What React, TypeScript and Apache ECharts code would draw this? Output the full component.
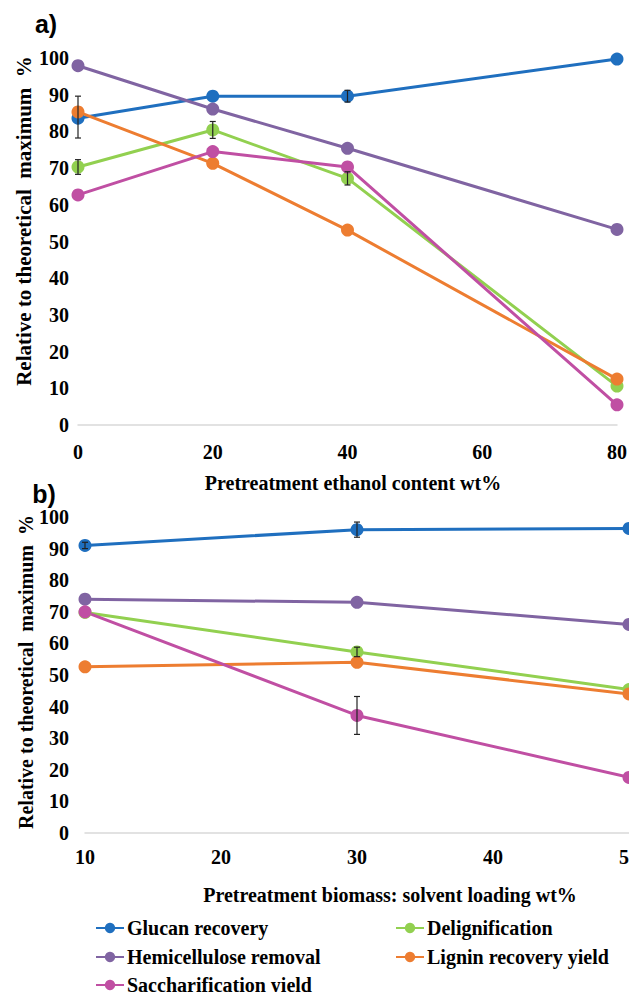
import React, { useEffect, useRef } from "react";
import * as echarts from "echarts";

// Panel a) – ethanol content
const ethanol = [0, 20, 40, 80];
const glucanA = [83.6, 89.6, 89.6, 99.7];
const deligA = [70.3, 80.4, 67.2, 10.6];
const hemiA = [97.9, 86.1, 75.4, 53.3];
const ligninA = [85.3, 71.3, 53.1, 12.5];
const saccA = [62.7, 74.5, 70.3, 5.5];
// [x, center, half-width]
const errA = [
  [0, 83.9, 5.7],
  [40, 89.6, 1.6],
  [0, 70.3, 2.0],
  [20, 80.4, 2.3],
  [40, 67.2, 1.8],
];

// Panel b) – biomass loading
const loading = [10, 30, 50];
const glucanB = [91.0, 96.0, 96.4];
const deligB = [69.8, 57.3, 45.4];
const hemiB = [74.0, 73.0, 66.0];
const ligninB = [52.6, 54.0, 44.0];
const saccB = [70.0, 37.2, 17.6];
const errB = [
  [10, 91.0, 1.0],
  [30, 96.0, 2.4],
  [30, 57.3, 1.5],
  [30, 37.2, 6.0],
];

const ticksA = [0, 20, 40, 60, 80];
const ticksB = [10, 20, 30, 40, 50];

const names = {
  glucan: "Glucan recovery",
  delig: "Delignification",
  hemi: "Hemicellulose removal",
  lignin: "Lignin recovery yield",
  sacc: "Saccharification yield",
};
const colors = {
  glucan: "#1f6fbf",
  delig: "#92d050",
  hemi: "#8064a2",
  lignin: "#ed7d31",
  sacc: "#c04fa3",
};

const SERIF = "Liberation Serif";

export default function App() {
  const ref = useRef<HTMLDivElement>(null);
  useEffect(() => {
    if (!ref.current) return;
    const chart = echarts.init(ref.current, null, { renderer: "svg" });

    const mkLine = (key: string, xs: number[], ys: number[], idx: number) => ({
      type: "line",
      name: (names as any)[key],
      xAxisIndex: idx,
      yAxisIndex: idx,
      data: xs.map((x, i) => [x, ys[i]]),
      symbol: "circle",
      symbolSize: 13,
      itemStyle: { color: (colors as any)[key] },
      lineStyle: { color: (colors as any)[key], width: 3 },
      z: 3,
    });

    const mkErr = (errs: number[][], idx: number) => ({
      type: "custom",
      xAxisIndex: idx,
      yAxisIndex: idx,
      z: 5,
      silent: true,
      data: errs.map((e) => [e[0], e[1] - e[2], e[1] + e[2]]),
      encode: { x: 0, y: [1, 2] },
      renderItem: (_p: any, api: any) => {
        const x = api.value(0);
        const top = api.coord([x, api.value(2)]);
        const bot = api.coord([x, api.value(1)]);
        const w = 3;
        const st = { stroke: "#222", lineWidth: 1.2 };
        return {
          type: "group",
          children: [
            { type: "line", shape: { x1: top[0], y1: top[1], x2: bot[0], y2: bot[1] }, style: st },
            { type: "line", shape: { x1: top[0] - w, y1: top[1], x2: top[0] + w, y2: top[1] }, style: st },
            { type: "line", shape: { x1: bot[0] - w, y1: bot[1], x2: bot[0] + w, y2: bot[1] }, style: st },
          ],
        };
      },
    });

    const labelStyle = {
      fontFamily: SERIF,
      fontWeight: "bold",
      fontSize: 20,
      color: "#000",
    };

    const yAxisBase = {
      type: "value",
      min: 0,
      max: 100,
      interval: 10,
      axisLine: { show: false },
      axisTick: { show: false },
      splitLine: { show: false },
    };

    const mkLegend = (name: string, left: number, top: number) => ({
      orient: "horizontal",
      itemWidth: 28,
      itemHeight: 13,
      left,
      top,
      padding: 0,
      data: [name],
      textStyle: { ...labelStyle, padding: [0, 0, 0, -2] },
    });

    const option: any = {
      animation: false,
      backgroundColor: "#fff",
      grid: [
        { left: 78, right: 12, top: 58, height: 367, outerBoundsMode: "none" },
        { left: 85, right: 0, top: 517, height: 316, outerBoundsMode: "none" },
      ],
      xAxis: [
        {
          type: "value",
          gridIndex: 0,
          min: ticksA[0],
          max: ticksA[ticksA.length - 1],
          interval: 20,
          axisLine: { show: true, lineStyle: { color: "#d9d9d9", width: 1.5 } },
          axisTick: { show: false },
          splitLine: { show: false },
          axisLabel: { ...labelStyle, margin: 17 },
        },
        {
          type: "value",
          gridIndex: 1,
          min: ticksB[0],
          max: ticksB[ticksB.length - 1],
          interval: 10,
          axisLine: { show: true, lineStyle: { color: "#d9d9d9", width: 1.5 } },
          axisTick: { show: false },
          splitLine: { show: false },
          axisLabel: { ...labelStyle, margin: 14 },
        },
      ],
      yAxis: [
        { ...yAxisBase, gridIndex: 0, axisLabel: { ...labelStyle, margin: 9 } },
        { ...yAxisBase, gridIndex: 1, axisLabel: { ...labelStyle, margin: 16 } },
      ],
      legend: [
        mkLegend(names.glucan, 95, 918),
        mkLegend(names.hemi, 95, 947),
        mkLegend(names.sacc, 95, 975),
        mkLegend(names.delig, 395, 918),
        mkLegend(names.lignin, 395, 947),
      ],
      graphic: [
        {
          type: "text",
          x: 46,
          y: 24,
          style: { text: "a)", font: "bold 25px Liberation Sans", fill: "#000", align: "center", verticalAlign: "middle" },
        },
        {
          type: "text",
          x: 44,
          y: 494,
          style: { text: "b)", font: "bold 25px Liberation Sans", fill: "#000", align: "center", verticalAlign: "middle" },
        },
        {
          type: "text",
          x: 24,
          y: 221,
          rotation: Math.PI / 2,
          style: { text: "Relative to theoretical  maximum  %", font: `bold 21px ${SERIF}`, fill: "#000", align: "center", verticalAlign: "middle" },
        },
        {
          type: "text",
          x: 26,
          y: 672,
          rotation: Math.PI / 2,
          style: { text: "Relative to theoretical  maximum  %", font: `bold 20px ${SERIF}`, fill: "#000", align: "center", verticalAlign: "middle" },
        },
        {
          type: "text",
          x: 353,
          y: 483,
          style: { text: "Pretreatment ethanol content wt%", font: `bold 20px ${SERIF}`, fill: "#000", align: "center", verticalAlign: "middle" },
        },
        {
          type: "text",
          x: 390,
          y: 895,
          style: { text: "Pretreatment biomass: solvent loading wt%", font: `bold 20px ${SERIF}`, fill: "#000", align: "center", verticalAlign: "middle" },
        },
      ],
      series: [
        mkLine("glucan", ethanol, glucanA, 0),
        mkLine("delig", ethanol, deligA, 0),
        mkLine("hemi", ethanol, hemiA, 0),
        mkLine("lignin", ethanol, ligninA, 0),
        mkLine("sacc", ethanol, saccA, 0),
        mkErr(errA, 0),
        mkLine("glucan", loading, glucanB, 1),
        mkLine("delig", loading, deligB, 1),
        mkLine("hemi", loading, hemiB, 1),
        mkLine("lignin", loading, ligninB, 1),
        mkLine("sacc", loading, saccB, 1),
        mkErr(errB, 1),
      ],
    };
    chart.setOption(option);
    return () => chart.dispose();
  }, []);
  return (
    <div
      ref={ref}
      style={{ position: "absolute", left: 0, top: 0, width: 629, height: 992 }}
    />
  );
}
